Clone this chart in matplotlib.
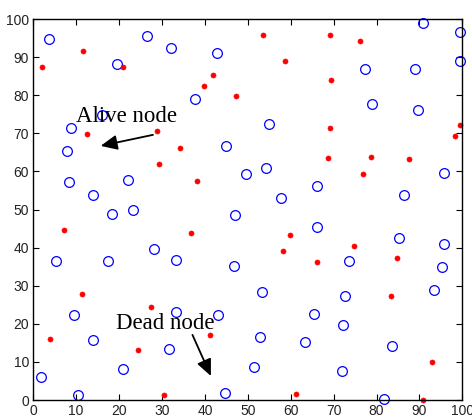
import matplotlib
matplotlib.use("Agg")
import matplotlib.pyplot as plt

# Alive nodes (blue open circles)
alive_x = [3.7, 26.5, 32.2, 42.9, 19.5, 37.8, 16.1, 8.9, 7.9, 45.0, 8.4, 22.1, 14.0, 18.4, 23.2,
           90.8, 99.5, 99.4, 77.2, 89.0, 78.9, 89.7, 54.9, 49.5, 54.2, 66.1, 57.8, 86.4, 95.7,
           5.3, 17.3, 28.1, 33.2, 46.9, 47.1, 9.6, 14.0, 33.2, 43.0, 31.6, 20.8, 1.7, 10.4, 44.6,
           66.2, 85.3, 95.7, 73.5, 95.2, 53.4, 72.6, 93.4, 65.5, 72.2, 52.8, 63.4, 83.5, 51.4, 72.0, 81.7]
alive_y = [94.7, 95.6, 92.4, 91.2, 88.3, 78.9, 74.8, 71.3, 65.4, 66.8, 57.2, 57.7, 53.9, 48.9, 50.0,
           98.9, 96.5, 88.9, 86.8, 87.0, 77.6, 76.2, 72.4, 59.2, 61.0, 56.3, 53.0, 53.9, 59.5,
           36.6, 36.6, 39.7, 36.8, 35.1, 48.6, 22.2, 15.8, 23.1, 22.2, 13.4, 8.1, 6.1, 1.3, 1.9,
           45.4, 42.4, 41.0, 36.6, 34.8, 28.3, 27.4, 28.9, 22.7, 19.7, 16.6, 15.1, 14.2, 8.7, 7.5, 0.4]

# Dead nodes (red dots)
dead_x = [2.1, 11.6, 21.0, 39.9, 41.8, 47.3, 12.5, 28.9, 34.2, 29.4, 38.2,
          53.5, 69.2, 76.2, 58.7, 69.5, 69.2, 99.5, 98.4, 68.8, 78.7, 87.6, 76.9,
          7.2, 36.8, 11.4, 4.0, 27.5, 24.5, 41.1, 30.5,
          59.8, 58.1, 74.8, 66.1, 84.7, 83.3, 92.9, 61.2, 90.9]
dead_y = [87.5, 91.7, 87.3, 82.5, 85.2, 79.9, 69.9, 70.5, 66.1, 62.0, 57.6,
          95.8, 95.8, 94.3, 89.0, 84.0, 71.4, 72.3, 69.4, 63.4, 63.8, 63.2, 59.4,
          44.6, 43.8, 27.9, 15.9, 24.4, 13.2, 17.0, 1.2,
          43.2, 39.0, 40.5, 36.1, 37.3, 27.3, 10.0, 1.5, 0.0]

ticks = [0, 10, 20, 30, 40, 50, 60, 70, 80, 90, 100]

fig = plt.figure(figsize=(4.72, 4.18), dpi=100)
ax = fig.add_axes([0.0705, 0.043, 0.909, 0.9115])

ax.plot(alive_x, alive_y, linestyle='none', marker='o', markersize=7,
        markerfacecolor='none', markeredgecolor='#0000ff', markeredgewidth=0.9, clip_on=False)
ax.plot(dead_x, dead_y, linestyle='none', marker='o', markersize=3.6,
        markerfacecolor='#ff0000', markeredgecolor='#ff0000', markeredgewidth=0.5, clip_on=False)

ax.set_xlim(0, 100)
ax.set_ylim(0, 100)
ax.set_xticks(ticks)
ax.set_yticks(ticks)
ax.tick_params(direction='in', top=True, right=True, length=4, width=0.8,
               labelsize=10, pad=3, colors='black', labelcolor='#222222')
for lab in ax.get_xticklabels() + ax.get_yticklabels():
    lab.set_family('Liberation Sans')
for s in ax.spines.values():
    s.set_linewidth(1.0)

ap = dict(arrowstyle='-|>,head_length=1.0,head_width=0.45', color='black', lw=1.3,
          shrinkA=0, shrinkB=0)
ax.annotate('', xy=(15.7, 66.7), xytext=(27.9, 69.6), arrowprops=ap, zorder=5)
ax.annotate('', xy=(41.4, 6.3), xytext=(37.1, 17.1), arrowprops=ap, zorder=5)
ax.text(21.8, 74.3, 'Alive node', family='Liberation Serif', fontsize=16.5,
        ha='center', va='center', zorder=6)
ax.text(30.7, 20.1, 'Dead node', family='Liberation Serif', fontsize=16.5,
        ha='center', va='center', zorder=6)

fig.savefig('out.png', dpi=100)
